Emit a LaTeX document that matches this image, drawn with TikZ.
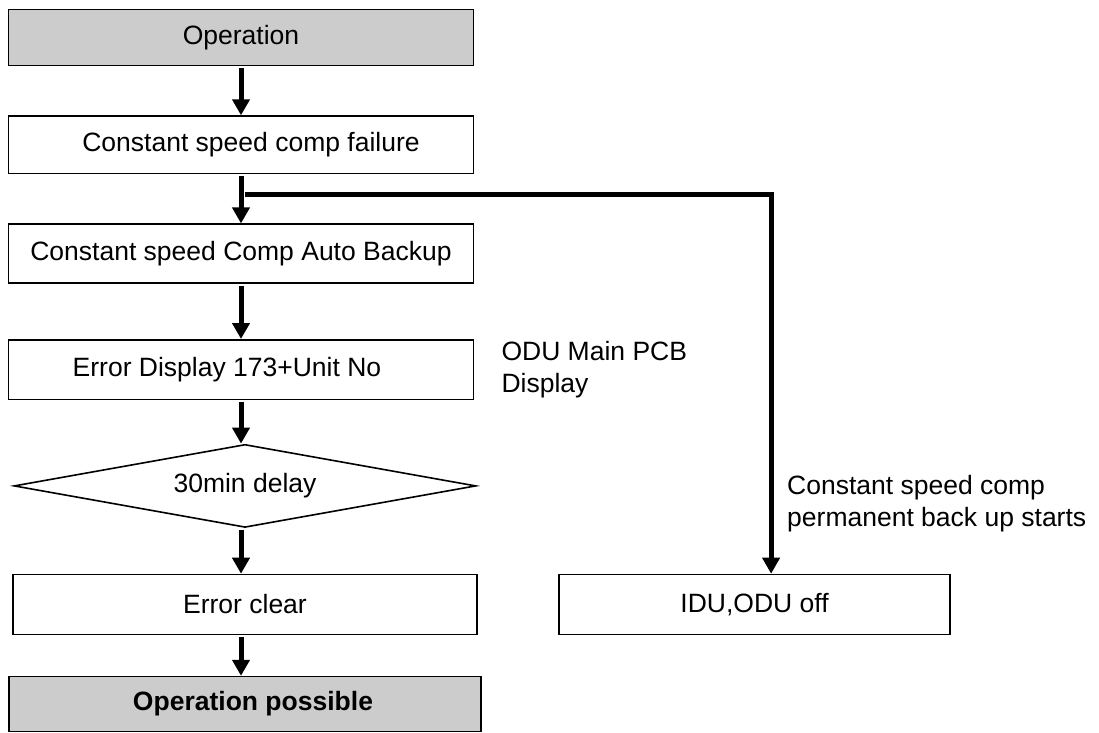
\documentclass[tikz,border=0pt]{standalone}
\usepackage{fontspec}
\setmainfont{Liberation Sans}
\usetikzlibrary{arrows.meta, positioning, shapes.geometric}

\begin{document}
\begin{tikzpicture}[x=1pt, y=1pt, font=\fontsize{26.5}{32}\selectfont]
    \tikzstyle{procbox}=[draw, line width=1.6pt, minimum width=465pt, minimum height=58pt, rectangle, inner sep=0pt]
    \tikzstyle{greybox}=[procbox, fill={rgb,255:red,204;green,204;blue,204}]
    \tikzstyle{waitbox}=[draw, line width=1.6pt, diamond, shape aspect=5.5, minimum width=462pt, minimum height=83pt, inner sep=0pt]
    \tikzstyle{flow}=[line width=5pt, -{Triangle[length=16pt, width=17pt]}, shorten <=2pt]
    \tikzstyle{note}=[align=left, inner sep=0pt, anchor=west]

    \useasboundingbox (0,0) rectangle (1099,-732);

    \node[greybox, minimum height=56pt] (op) at (241,-37.5) {Operation};
    \node[procbox, minimum height=57.5pt, below=49pt of op] (fail) {\hspace*{20pt}Constant speed comp failure};
    \node[procbox, minimum height=59pt, below=49pt of fail] (backup) {Constant speed Comp Auto Backup};
    \node[procbox, minimum height=59.5pt, below=55pt of backup] (errdisp) {Error Display 173+Unit No\hspace*{28pt}};
    \node[waitbox, below=43.5pt of errdisp, xshift=4pt] (delay) {30min delay};
    \node[procbox, minimum width=464pt, minimum height=60pt, below=45.5pt of delay] (clear) {Error clear};
    \node[greybox, minimum width=472pt, minimum height=55pt, below=40.5pt of clear, font=\fontsize{26.5}{32}\selectfont\bfseries] (possible) {\hspace*{16pt}Operation possible};
    \node[procbox, minimum width=391pt, minimum height=60pt, right=80.5pt of clear] (idu) {IDU,ODU off};

    \node[note, right=27pt of errdisp] (pcbnote) {ODU Main PCB\\Display};
    \node[note] (backupnote) at (787,-504) {Constant speed comp\\permanent back up starts};

    \draw[flow] (op) -- (fail);
    \draw[flow] (fail) -- (backup);
    \draw[flow] (backup) -- (errdisp);
    \draw[flow] (errdisp.south) -- (errdisp.south |- delay.north);
    \draw[flow] (errdisp.south |- delay.south) -- (errdisp.south |- clear.north);
    \draw[flow] (errdisp.south |- clear.south) -- (errdisp.south |- possible.north);

    \draw[flow, shorten <=0pt] ([xshift=3.5pt, yshift=-20pt]fail.south) -| ([xshift=16.5pt]idu.north);
\end{tikzpicture}
\end{document}
